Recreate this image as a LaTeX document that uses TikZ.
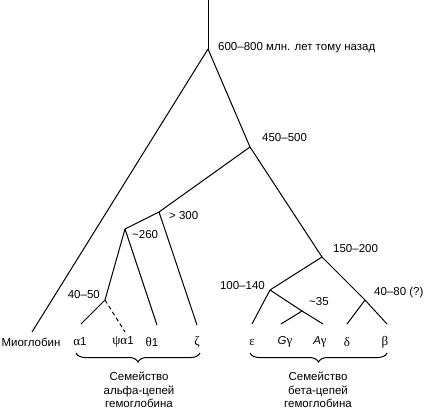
\documentclass[tikz,border=0pt]{standalone}
\usepackage{fontspec}
\setmainfont{Liberation Sans}
\newfontfamily\grk{Liberation Serif}
\newcommand{\gksz}{\grk\fontsize{13}{13}\selectfont}
\usetikzlibrary{decorations.pathreplacing}
\begin{document}
\begin{tikzpicture}[x=1pt,y=-1pt,
  br/.style={line width=1pt},
  lbl/.style={inner sep=0pt,font=\fontsize{11.5}{13}\selectfont},
  leaf/.style={inner sep=0pt,font=\fontsize{11.5}{13}\selectfont},
  gk/.style={inner sep=0pt,font=\gksz},
  fam/.style={inner sep=0pt,align=center,font=\fontsize{11.5}{13.3}\selectfont},
  brc/.style={line width=1pt,decorate,decoration={brace,mirror,amplitude=9pt}}]
\useasboundingbox (0,0) rectangle (424,410);
% branch points
\coordinate (top) at (208,0);
\coordinate (A) at (208,49);
\coordinate (B) at (250,147);
\coordinate (C) at (159,212);
\coordinate (D) at (322,257);
\coordinate (E) at (125,229);
\coordinate (F) at (105,300);
\coordinate (G) at (270,290);
\coordinate (H) at (365,300);
\coordinate (I) at (302,311);
% leaf tips
\coordinate (tmyo) at (32,332);
\coordinate (ta1) at (81,324);
\coordinate (tpsi) at (125,332);
\coordinate (tth) at (157,325);
\coordinate (tze) at (197,325);
\coordinate (teps) at (252,324);
\coordinate (tgg) at (281,324);
\coordinate (tag) at (323,324);
\coordinate (tdel) at (347,324);
\coordinate (tbet) at (387,324);
% tree
\draw[br] (top) -- (A);
\draw[br] (A) -- (tmyo);
\draw[br] (A) -- (B);
\draw[br] (B) -- (C);
\draw[br] (B) -- (D);
\draw[br] (C) -- (E);
\draw[br] (C) -- (tze);
\draw[br] (E) -- (tth);
\draw[br] (E) -- (F);
\draw[br] (F) -- (ta1);
\draw[br,dashed,dash pattern=on 4pt off 3pt] (F) -- (tpsi);
\draw[br] (D) -- (G);
\draw[br] (D) -- (H);
\draw[br] (G) -- (teps);
\draw[br] (G) -- (I);
\draw[br] (I) -- (tgg);
\draw[br] (I) -- (tag);
\draw[br] (H) -- (tdel);
\draw[br] (H) -- (tbet);
% time labels
\node[lbl,anchor=west] (lA) at (218,48) {600–800 млн. лет тому назад};
\node[lbl,anchor=west] (lB) at (262,138) {450–500};
\node[lbl,anchor=west] (lC) at (169,216) {> 300};
\node[lbl,anchor=west] (lE) at (132,235) {\textasciitilde 260};
\node[lbl,anchor=west] (lD) at (333,249) {150–200};
\node[lbl,anchor=east] (lF) at (100,295) {40–50};
\node[lbl,anchor=east] (lG) at (265,286) {100–140};
\node[lbl,anchor=west] (lH) at (374,293) {40–80 (?)};
\node[lbl,anchor=west] (lI) at (309,302) {\textasciitilde 35};
% leaves
\node[leaf] (myo) at (31,342) {Миоглобин};
\node[leaf] (a1) at (80,342) {{\gksz α}1};
\node[leaf] (psi) at (123,342) {{\gksz ψα}1};
\node[leaf] (th) at (152,342) {{\gksz θ}1};
\node[gk] (ze) at (197,342) {ζ};
\node[gk] (eps) at (252,342) {ε};
\node[leaf] (gg) at (285,342) {\textit{G}{\gksz γ}};
\node[leaf] (ag) at (320,342) {\textit{A}{\gksz γ}};
\node[gk] (del) at (347,342) {δ};
\node[gk] (bet) at (385,342) {β};
% braces
\coordinate (b1l) at (76,353);
\coordinate (b1r) at (200,353);
\coordinate (b2l) at (250,353);
\coordinate (b2r) at (387,353);
\draw[brc] (b1l) -- (b1r);
\draw[brc] (b2l) -- (b2r);
\node[fam,anchor=north] (fa) at (139,372) {Семейство\\альфа-цепей\\гемоглобина};
\node[fam,anchor=north] (fb) at (318,372) {Семейство\\бета-цепей\\гемоглобина};
\end{tikzpicture}
\end{document}
